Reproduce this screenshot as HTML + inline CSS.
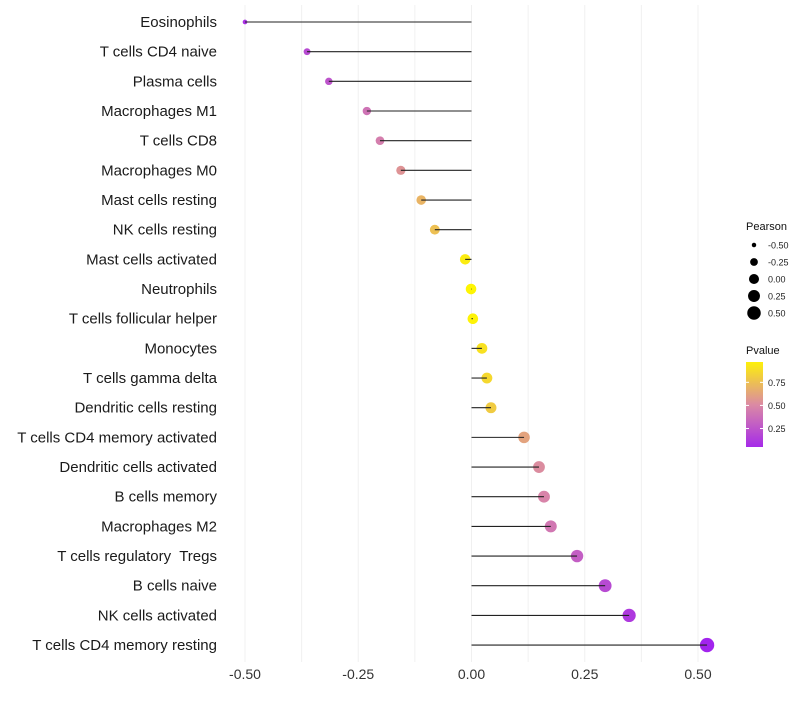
<!DOCTYPE html>
<html><head><meta charset="utf-8"><style>
body{margin:0;background:#fff;font-family:"Liberation Sans",sans-serif}
text{white-space:pre}
</style></head><body>
<svg id="chart" width="800" height="700" xmlns="http://www.w3.org/2000/svg"></svg>
<script>
const categories=["Eosinophils","T cells CD4 naive","Plasma cells","Macrophages M1","T cells CD8","Macrophages M0","Mast cells resting","NK cells resting","Mast cells activated","Neutrophils","T cells follicular helper","Monocytes","T cells gamma delta","Dendritic cells resting","T cells CD4 memory activated","Dendritic cells activated","B cells memory","Macrophages M2","T cells regulatory  Tregs","B cells naive","NK cells activated","T cells CD4 memory resting"];
const pearson=[-0.50,-0.363,-0.315,-0.231,-0.202,-0.156,-0.111,-0.081,-0.014,-0.001,0.003,0.023,0.034,0.043,0.116,0.149,0.160,0.175,0.233,0.295,0.348,0.52];
const pvalue=[0.08,0.2,0.25,0.4,0.45,0.55,0.7,0.75,0.95,0.99,0.98,0.9,0.86,0.8,0.62,0.52,0.48,0.42,0.3,0.2,0.12,0.02];
const xTicks=[-0.5,-0.25,0,0.25,0.5];
const xTickLabels=["-0.50","-0.25","0.00","0.25","0.50"];
const sizeLegend=[-0.5,-0.25,0,0.25,0.5];
const sizeLegendLabels=["-0.50","-0.25","0.00","0.25","0.50"];
const pTicks=[0.25,0.5,0.75];
const pTickLabels=["0.25","0.50","0.75"];

const NS="http://www.w3.org/2000/svg";
const svg=document.getElementById('chart');
function mk(t,a,p){const e=document.createElementNS(NS,t);for(const k in a)e.setAttribute(k,a[k]);(p||svg).appendChild(e);return e;}
const X=v=>471.5+v*453;
const Y=i=>22+i*29.67;
const R=v=>Math.sqrt(Math.max(3,28+45*v));
function hex(c){return [parseInt(c.slice(1,3),16),parseInt(c.slice(3,5),16),parseInt(c.slice(5,7),16)];}
const stops=[hex("#A020F0"),hex("#DA88A6"),hex("#FFF700")];
function col(p){p=Math.max(0,Math.min(1,p));let a,b,t;if(p<0.5){a=stops[0];b=stops[1];t=p/0.5;}else{a=stops[1];b=stops[2];t=(p-0.5)/0.5;}
return "rgb("+a.map((v,i)=>Math.round(v+(b[i]-v)*t)).join(",")+")";}

for(let k=-4;k<=4;k++){const g=mk('line',{x1:X(k*0.125),x2:X(k*0.125),y1:5,y2:662,stroke:'#f0f0f0','stroke-width':1});
}
xTicks.forEach((v,i)=>{const t=mk('text',{x:X(v),y:679,'font-size':14,'text-anchor':'middle',fill:'#333'});t.textContent=xTickLabels[i];
});
categories.forEach((c,i)=>{
 const y=Y(i);
 const l=mk('text',{x:217,y:y+5,'font-size':15,'text-anchor':'end',fill:'#1a1a1a'});l.textContent=c;
 
 const d=mk('circle',{cx:X(pearson[i]),cy:y,r:R(pearson[i]),fill:col(pvalue[i])});
 
 const s=mk('line',{x1:X(0),x2:X(pearson[i]),y1:y,y2:y,stroke:'#222','stroke-width':1.1});
 
});
const lt=mk('text',{x:746,y:230,'font-size':11,fill:'#111'});lt.textContent="Pearson";

sizeLegend.forEach((v,i)=>{const y=245+i*17;
 const c=mk('circle',{cx:754,cy:y,r:R(v)*0.95,fill:'#000'});
 const t=mk('text',{x:768,y:y+3.5,'font-size':9,fill:'#222'});t.textContent=sizeLegendLabels[i];
 });
const pt=mk('text',{x:746,y:354,'font-size':11,fill:'#111'});pt.textContent="Pvalue";

const defs=mk('defs',{});const gr=mk('linearGradient',{id:'pg',x1:0,y1:1,x2:0,y2:0},defs);
for(let k=0;k<=10;k++){mk('stop',{offset:k/10,'stop-color':col(0.05+0.92*k/10)},gr);}
const bar=mk('rect',{x:746,y:362,width:17,height:85,fill:'url(#pg)'});

const PY=p=>447-(p-0.05)/0.92*85;
pTicks.forEach((p,i)=>{mk('line',{x1:746,x2:749,y1:PY(p),y2:PY(p),stroke:'#fff'});mk('line',{x1:760,x2:763,y1:PY(p),y2:PY(p),stroke:'#fff'});
 const t=mk('text',{x:768,y:PY(p)+3.5,'font-size':9,fill:'#222'});t.textContent=pTickLabels[i];
 });
</script>
</body></html>
